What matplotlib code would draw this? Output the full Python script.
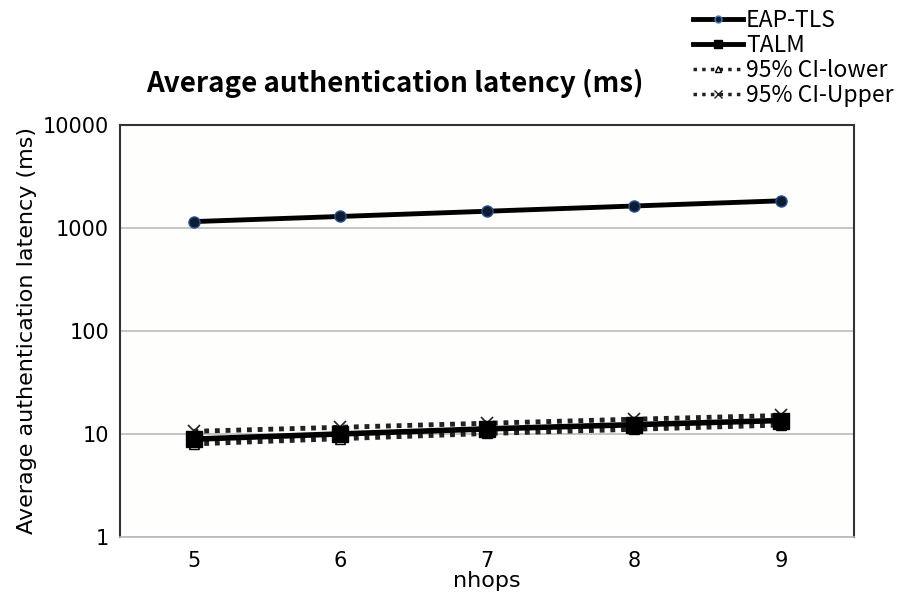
import matplotlib.pyplot as plt
from matplotlib.lines import Line2D

nhops = [5, 6, 7, 8, 9]
eap_tls = [1150, 1290, 1450, 1630, 1830]
talm = [8.9, 10.0, 11.2, 12.3, 13.5]
ci_lower = [8.0, 9.0, 10.1, 11.1, 12.2]
ci_upper = [10.6, 11.6, 12.7, 13.9, 15.1]

y_ticks = [1, 10, 100, 1000, 10000]
y_ticklabels = ["1", "10", "100", "1000", "10000"]

bg = "#fefefc"

fig = plt.figure(figsize=(9.03, 6.03), dpi=100, facecolor="white")
ax = fig.add_axes([0.133, 0.1095, 0.813, 0.6835], facecolor=bg)

ax.plot(nhops, ci_lower, linestyle=(0, (1, 1.2)), linewidth=3.5, color="#222222",
        marker="^", markersize=7, markerfacecolor="white", markeredgecolor="black", zorder=3)
ax.plot(nhops, ci_upper, linestyle=(0, (1, 1.2)), linewidth=3.5, color="#222222",
        marker="x", markersize=9, markeredgewidth=1.2, zorder=3)
ax.plot(nhops, talm, color="black", linewidth=4, marker="s", markersize=11, zorder=4)
ax.plot(nhops, eap_tls, color="black", linewidth=3.5, marker="o", markersize=8,
        markerfacecolor="#0d1b33", markeredgecolor="#2a5590", zorder=4)

ax.set_yscale("log")
ax.set_ylim(1, 10000)
ax.set_xlim(4.5, 9.5)
ax.set_xticks(nhops)
ax.set_yticks(y_ticks)
ax.set_yticklabels(y_ticklabels)
ax.minorticks_off()
ax.tick_params(axis="both", length=0, labelsize=15, pad=8)
ax.tick_params(axis="x", pad=10)
ax.yaxis.grid(True, color="#bbbbbb", linewidth=1.2)
ax.set_axisbelow(True)

for side in ["left", "top", "right"]:
    ax.spines[side].set_color("#333333")
    ax.spines[side].set_linewidth(1.5)
ax.spines["bottom"].set_color("#bbbbbb")
ax.spines["bottom"].set_linewidth(1.2)

ax.set_xlabel("nhops", fontsize=16, labelpad=0)
ax.set_ylabel("Average authentication latency (ms)", fontsize=16, labelpad=4)

fig.text(0.437, 0.862, "Average authentication latency (ms)", ha="center", va="center",
         fontsize=20, fontweight="bold", family=["Noto Sans CJK KR", "DejaVu Sans"])

handles = [
    Line2D([], [], color="black", linewidth=3.5, marker="o", markersize=5,
           markerfacecolor="#0d1b33", markeredgecolor="#4a80c0"),
    Line2D([], [], color="black", linewidth=3.5, marker="s", markersize=6),
    Line2D([], [], color="#222222", linestyle=(0, (1, 1.5)), linewidth=2.5,
           marker="^", markersize=5, markerfacecolor="white", markeredgecolor="black"),
    Line2D([], [], color="#222222", linestyle=(0, (1, 1.5)), linewidth=2.5,
           marker="x", markersize=6),
]
labels = ["EAP-TLS", "TALM", "95% CI-lower", "95% CI-Upper"]
fig.legend(handles, labels, loc="upper left", bbox_to_anchor=(0.757, 1.0),
           frameon=False, handlelength=2.2, handletextpad=0.12,
           labelspacing=0.08, borderaxespad=0,
           prop={"family": ["Noto Sans CJK KR", "DejaVu Sans"], "size": 16.5})

fig.savefig("out.png", dpi=100, facecolor="white")
